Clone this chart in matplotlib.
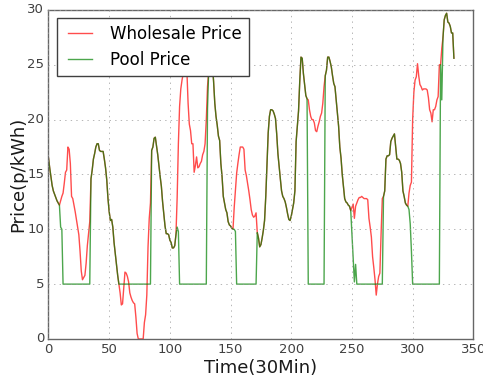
import numpy as np
import matplotlib
matplotlib.use('Agg')
import matplotlib.pyplot as plt

# half-hour index, 0..334
wholesale_price = [
    16.5, 15.6, 14.8, 14.0, 13.5, 13.2, 12.9, 12.6, 12.4, 12.2,
    12.6, 13.0, 13.3, 14.2, 15.2, 15.4, 17.5, 17.3, 16.0, 13.0,
    12.8, 12.2, 11.6, 10.9, 10.2, 9.5, 8.0, 6.2, 5.4, 5.6,
    5.8, 6.9, 8.5, 9.6, 10.7, 14.6, 15.4, 16.4, 16.9, 17.5,
    17.8, 17.8, 17.2, 17.1, 17.1, 17.1, 16.4, 15.6, 14.5, 12.8,
    11.6, 10.8, 10.9, 10.2, 8.8, 7.8, 6.8, 5.8, 5.0, 4.2,
    3.1, 3.2, 4.7, 6.1, 6.0, 5.7, 5.2, 4.2, 3.8, 3.5,
    3.3, 3.2, 2.0, 0.5, 0.0, 0.0, 0.0, 0.0, 0.0, 1.5,
    2.2, 4.0, 8.4, 11.0, 12.4, 17.2, 17.5, 18.3, 18.4, 17.6,
    16.8, 15.8, 14.8, 13.9, 12.5, 11.4, 10.3, 9.6, 9.6, 9.5,
    9.0, 8.8, 8.3, 8.3, 8.5, 9.5, 12.9, 17.8, 21.2, 22.8,
    23.6, 24.2, 26.0, 26.5, 24.5, 21.5, 19.6, 19.0, 17.8, 17.8,
    15.2, 15.8, 16.6, 15.6, 15.7, 16.0, 16.2, 16.8, 17.1, 17.8,
    20.0, 23.0, 24.5, 26.5, 26.0, 25.0, 23.5, 21.5, 20.3, 19.5,
    18.5, 18.1, 16.0, 14.8, 13.0, 12.4, 11.8, 11.5, 10.7, 10.4,
    10.3, 10.1, 10.0, 12.0, 13.5, 15.1, 16.0, 16.8, 17.5, 17.5,
    17.5, 17.3, 15.4, 14.9, 14.2, 13.5, 12.7, 11.8, 11.3, 11.1,
    11.2, 11.5, 9.7, 9.2, 8.4, 8.6, 9.2, 9.9, 10.8, 13.0,
    16.0, 18.8, 20.3, 20.9, 20.9, 20.8, 20.5, 20.1, 18.7, 16.9,
    15.7, 14.6, 13.5, 13.0, 12.8, 12.5, 12.0, 11.4, 10.9, 10.8,
    11.2, 11.8, 12.4, 13.5, 18.0, 19.4, 20.8, 23.5, 25.7, 25.6,
    24.2, 23.2, 22.2, 21.9, 21.8, 20.9, 20.3, 20.0, 20.0, 19.7,
    19.0, 18.9, 19.4, 19.8, 20.3, 20.6, 21.5, 23.0, 24.0, 24.5,
    25.7, 25.7, 25.3, 24.8, 24.0, 23.3, 23.0, 21.8, 20.6, 19.4,
    17.5, 16.5, 15.0, 13.9, 12.8, 12.5, 12.4, 12.2, 12.1, 11.7,
    12.0, 12.3, 11.0, 12.1, 12.4, 12.7, 12.9, 12.9, 13.0, 12.9,
    12.8, 12.8, 12.8, 12.7, 11.0, 10.2, 9.3, 7.5, 6.5, 5.4,
    4.0, 5.0, 5.7, 6.0, 9.6, 12.8, 13.0, 13.5, 16.4, 16.7,
    16.7, 16.8, 18.0, 18.3, 18.5, 18.7, 17.5, 16.4, 16.4, 16.3,
    16.0, 15.2, 13.5, 13.0, 12.4, 12.2, 12.1, 13.3, 14.0, 14.3,
    20.0, 22.5, 23.6, 23.9, 25.1, 24.0, 23.2, 23.0, 22.7, 22.8,
    22.8, 22.8, 22.7, 22.0, 20.9, 20.6, 19.8, 20.9, 20.9, 21.2,
    21.8, 22.1, 25.0, 25.0, 26.5, 27.5, 29.1, 29.5, 29.7, 28.9,
    28.8, 28.5, 27.9, 27.9, 25.6,
]

pool_price = [
    16.5, 15.6, 14.8, 14.0, 13.5, 13.2, 12.9, 12.6, 12.4, 12.2,
    10.2, 10.0, 5.0, 5.0, 5.0, 5.0, 5.0, 5.0, 5.0, 5.0,
    5.0, 5.0, 5.0, 5.0, 5.0, 5.0, 5.0, 5.0, 5.0, 5.0,
    5.0, 5.0, 5.0, 5.0, 5.0, 14.6, 15.4, 16.4, 16.9, 17.5,
    17.8, 17.8, 17.2, 17.1, 17.1, 17.1, 16.4, 15.6, 14.5, 12.8,
    11.6, 10.8, 10.9, 10.2, 8.8, 7.8, 6.8, 5.8, 5.0, 5.0,
    5.0, 5.0, 5.0, 5.0, 5.0, 5.0, 5.0, 5.0, 5.0, 5.0,
    5.0, 5.0, 5.0, 5.0, 5.0, 5.0, 5.0, 5.0, 5.0, 5.0,
    5.0, 5.0, 5.0, 5.0, 5.0, 17.2, 17.5, 18.3, 18.4, 17.6,
    16.8, 15.8, 14.8, 13.9, 12.5, 11.4, 10.3, 9.6, 9.6, 9.5,
    9.0, 8.8, 8.3, 8.3, 8.5, 9.5, 10.2, 9.8, 5.0, 5.0,
    5.0, 5.0, 5.0, 5.0, 5.0, 5.0, 5.0, 5.0, 5.0, 5.0,
    5.0, 5.0, 5.0, 5.0, 5.0, 5.0, 5.0, 5.0, 5.0, 5.0,
    5.0, 21.0, 24.5, 26.5, 26.0, 25.0, 23.5, 21.5, 20.3, 19.5,
    18.5, 18.1, 16.0, 14.8, 13.0, 12.4, 11.8, 11.5, 10.7, 10.4,
    10.3, 10.1, 10.0, 10.0, 9.8, 5.0, 5.0, 5.0, 5.0, 5.0,
    5.0, 5.0, 5.0, 5.0, 5.0, 5.0, 5.0, 5.0, 5.0, 5.0,
    5.0, 5.0, 9.7, 9.2, 8.4, 8.6, 9.2, 9.9, 10.8, 13.0,
    16.0, 18.8, 20.3, 20.9, 20.9, 20.8, 20.5, 20.1, 18.7, 16.9,
    15.7, 14.6, 13.5, 13.0, 12.8, 12.5, 12.0, 11.4, 10.9, 10.8,
    11.2, 11.8, 12.4, 13.5, 18.0, 19.4, 20.8, 23.5, 25.7, 25.6,
    24.2, 23.2, 22.2, 21.9, 5.0, 5.0, 5.0, 5.0, 5.0, 5.0,
    5.0, 5.0, 5.0, 5.0, 5.0, 5.0, 5.0, 5.0, 24.0, 24.5,
    25.7, 25.7, 25.3, 24.8, 24.0, 23.3, 23.0, 21.8, 20.6, 19.4,
    17.5, 16.5, 15.0, 13.9, 12.8, 12.5, 12.4, 12.2, 12.1, 11.7,
    9.5, 7.5, 5.2, 6.8, 5.0, 5.0, 5.0, 5.0, 5.0, 5.0,
    5.0, 5.0, 5.0, 5.0, 5.0, 5.0, 5.0, 5.0, 5.0, 5.0,
    5.0, 5.0, 5.0, 5.0, 5.0, 5.0, 13.0, 13.5, 16.4, 16.7,
    16.7, 16.8, 18.0, 18.3, 18.5, 18.7, 17.5, 16.4, 16.4, 16.3,
    16.0, 15.2, 13.5, 13.0, 12.4, 12.2, 12.1, 11.8, 10.5, 8.0,
    5.0, 5.0, 5.0, 5.0, 5.0, 5.0, 5.0, 5.0, 5.0, 5.0,
    5.0, 5.0, 5.0, 5.0, 5.0, 5.0, 5.0, 5.0, 5.0, 5.0,
    5.0, 5.0, 5.0, 25.0, 21.8, 27.5, 29.1, 29.5, 29.7, 28.9,
    28.8, 28.5, 27.9, 27.9, 25.6,
]

plt.style.use('classic')

fig = plt.figure(figsize=(4.83, 3.83), dpi=100, facecolor='white')
ax = fig.add_axes([0.1004, 0.115, 0.8796, 0.859])

ax.plot(wholesale_price, color='r', alpha=0.7, lw=1, label='Wholesale Price')
ax.plot(pool_price, color='g', alpha=0.7, lw=1, label='Pool Price')

ax.set_xlim(0, 350)
ax.set_ylim(0, 30)
ax.set_xlabel('Time(30Min)', fontsize=13, color='0.1', labelpad=2)
ax.set_ylabel('Price(p/kWh)', fontsize=13, color='0.1', labelpad=0)
ax.tick_params(labelsize=9.5, length=0, pad=3, colors='0.25')
for s in ax.spines.values():
    s.set_color('0.4')
ax.grid(True, color='0.6')
leg = ax.legend(loc='upper left', fontsize=12)
leg.get_frame().set_edgecolor('0.25')

fig.savefig('out.png', dpi=100, facecolor='white')
